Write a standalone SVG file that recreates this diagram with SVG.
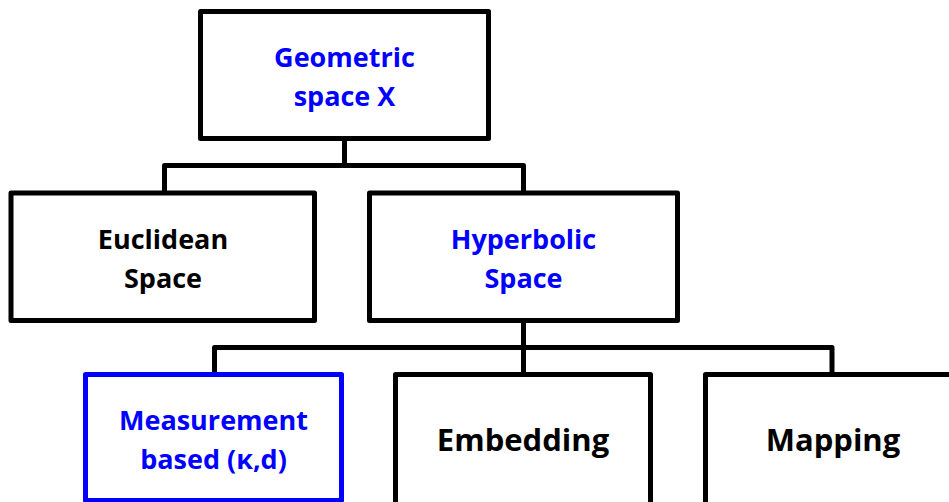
<svg xmlns="http://www.w3.org/2000/svg" width="949" height="502" viewBox="0 0 949 502">
  <style>
    .box { fill: #ffffff; stroke: #000000; stroke-width: 5; stroke-linejoin: round; }
    .box.hl { stroke: #0000ff; }
    .wire { fill: none; stroke: #000000; stroke-width: 5; stroke-linejoin: round; stroke-linecap: butt; }
    text { font-family: "Open Sans", "Noto Sans", "Liberation Sans", sans-serif; font-weight: 700; text-anchor: middle; fill: #000000; }
    .two { font-size: 27px; }
    .one { font-size: 31px; }
    .blue { fill: #0000ff; }
  </style>

  <!-- tree connectors -->
  <g id="connectors">
    <path class="wire" d="M344.5 138.5 V165.5 M164.5 193 V165.5 H523.5 V193"/>
    <path class="wire" d="M523.5 320.5 V347.5 M214.5 374.5 V347.5 H832 V374.5 M523.5 347.5 V374.5"/>
  </g>

  <g id="geometric-space">
    <rect class="box" x="200.5" y="11.5" width="288" height="127"/>
    <text class="two blue" x="344.5" y="67">Geometric</text>
    <text class="two blue" x="344.5" y="106">space X</text>
  </g>

  <g id="euclidean-space">
    <rect class="box" x="11" y="193" width="303.5" height="127.5"/>
    <text class="two" x="163" y="248.5">Euclidean</text>
    <text class="two" x="163" y="287.5">Space</text>
  </g>

  <g id="hyperbolic-space">
    <rect class="box" x="369.5" y="193" width="308" height="127.5"/>
    <text class="two blue" x="523.5" y="248.5">Hyperbolic</text>
    <text class="two blue" x="523.5" y="287.5">Space</text>
  </g>

  <g id="measurement-based">
    <rect class="box hl" x="85.5" y="374.5" width="256" height="126"/>
    <text class="two blue" x="213.5" y="429.5">Measurement</text>
    <text class="two blue" x="213.5" y="468.5">based (κ,d)</text>
  </g>

  <g id="embedding">
    <rect class="box" x="395.5" y="374.5" width="255" height="132"/>
    <text class="one" x="523" y="451">Embedding</text>
  </g>

  <g id="mapping">
    <rect class="box" x="705.5" y="374.5" width="255" height="132"/>
    <text class="one" x="833" y="451">Mapping</text>
  </g>
</svg>
